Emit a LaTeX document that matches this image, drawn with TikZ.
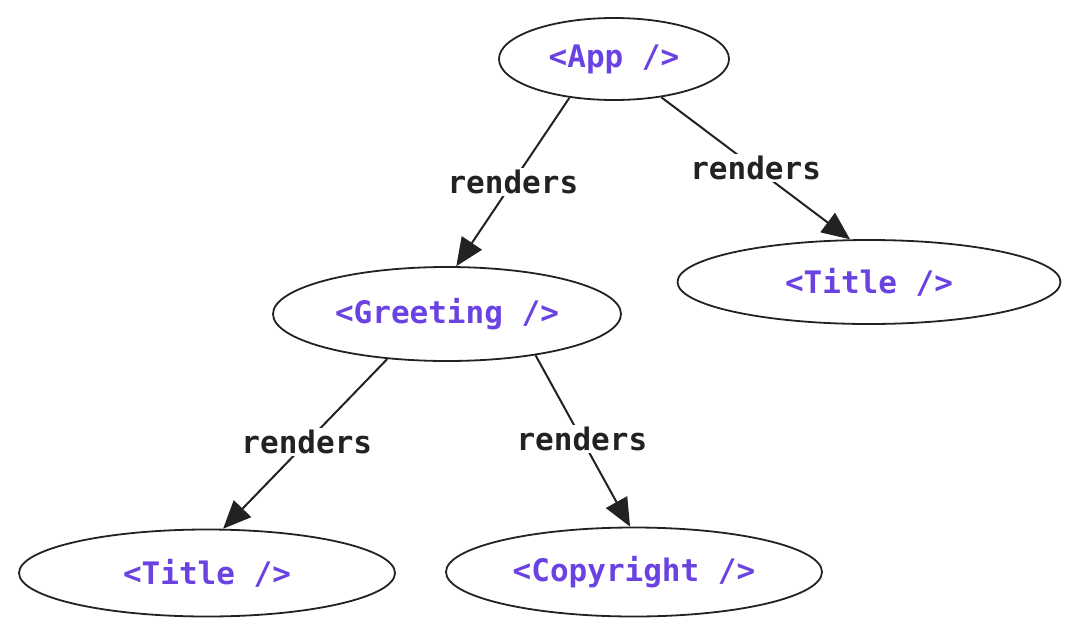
\documentclass[tikz,border=0pt]{standalone}
\usepackage{fontspec}
\setmonofont{DejaVu Sans Mono}
\usetikzlibrary{shapes.geometric,arrows.meta}
\definecolor{comp}{HTML}{6A42E2}
\definecolor{ink}{HTML}{222222}
\tikzset{
  comp/.style={ellipse, draw=ink, line width=1.8pt, inner sep=0pt, text=comp,
    font=\fontsize{31}{36}\selectfont\ttfamily\bfseries},
  rel/.style={draw=ink, line width=2pt, -{Triangle[length=28pt,width=24pt]}},
  lbl/.style={fill=white, inner sep=2pt, text=ink, font=\fontsize{31}{36}\selectfont\ttfamily\bfseries}
}
\begin{document}
\begin{tikzpicture}[x=1pt,y=-1pt]
\useasboundingbox[fill=white] (0,0) rectangle (1080,638);
\node[comp, minimum width=230pt, minimum height=82pt] (app) at (614,59) {<App />};
\node[comp, minimum width=383pt, minimum height=84pt] (titleR) at (869,282) {<Title />};
\node[comp, minimum width=348pt, minimum height=94pt] (greet) at (447,314) {<Greeting />};
\node[comp, minimum width=376pt, minimum height=87pt] (titleL) at (207,573) {<Title />};
\node[comp, minimum width=376pt, minimum height=89pt] (copy) at (634,572) {<Copyright />};
\draw[rel] (app.221) -- node[lbl, pos=0.5] (l1) {renders} (greet.79);
\draw[rel] (app.321) -- node[lbl, pos=0.5] (l2) {renders} (titleR.114);
\draw[rel] (greet.217) -- node[lbl, pos=0.49] (l3) {renders} (titleL.70);
\draw[rel] (greet.335) -- node[lbl, pos=0.49] (l4) {renders} (copy.95);
\end{tikzpicture}
\end{document}
